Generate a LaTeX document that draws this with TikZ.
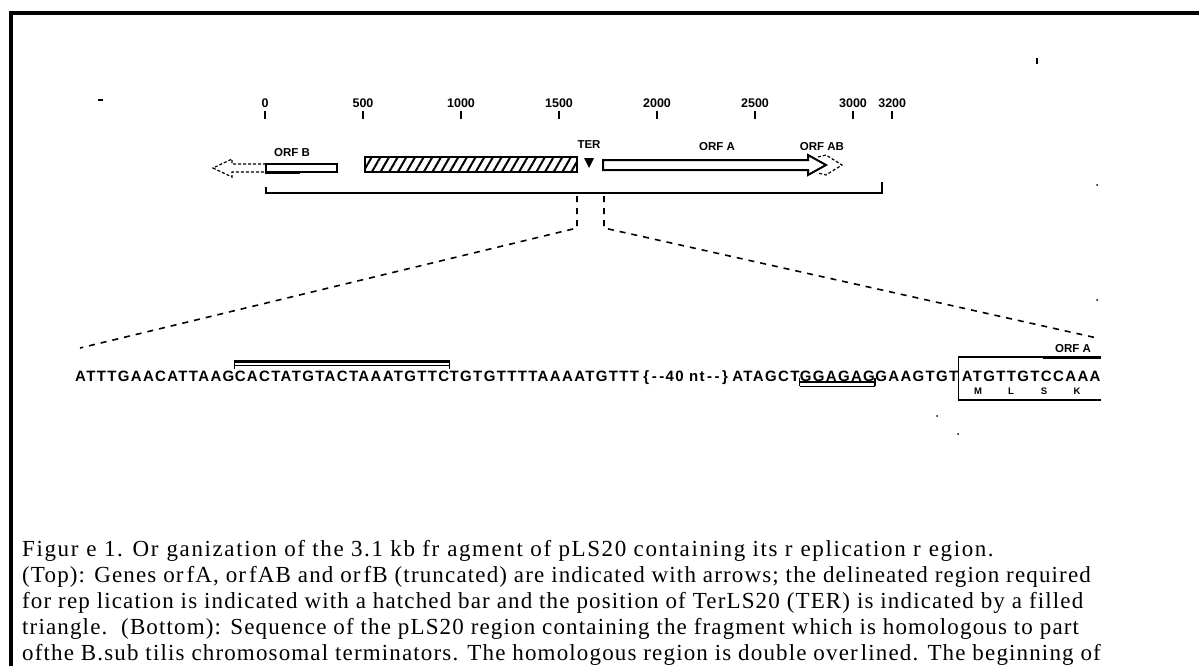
\documentclass[tikz,border=0pt]{standalone}
\usepackage{fontspec}
\setmainfont{Liberation Serif}
\setsansfont{Liberation Sans}
\usepackage{tikz}
\usetikzlibrary{positioning, calc, patterns.meta}
\newcommand{\seqfont}{\sffamily\bfseries\fontsize{15}{15}\selectfont\addfontfeature{LetterSpace=9}}
\newcommand{\rg}{\kern8pt}
\tikzset{
  frameline/.style={line width=4pt},
  ticklabel/.style={font=\sffamily\bfseries\fontsize{12.5}{12.5}\selectfont, inner sep=0pt},
  tickmark/.style={line width=1.8pt},
  orflabel/.style={font=\sffamily\bfseries\fontsize{11.5}{11.5}\selectfont, inner sep=0pt},
  geneline/.style={line width=1.2pt},
  thickgene/.style={line width=2pt},
  dashgene/.style={line width=1.2pt, dash pattern=on 3pt off 2pt},
  hatchbar/.style={draw, line width=1.8pt, inner sep=0pt, minimum width=212pt,
                   minimum height=15pt,
                   pattern={Lines[angle=60, distance=7.5pt, line width=2pt]}},
  bracketline/.style={line width=2.5pt},
  zoomline/.style={line width=1.6pt, dash pattern=on 6pt off 6pt},
  seqtext/.style={font=\seqfont, inner sep=0pt, anchor=base west},
  aatext/.style={font=\sffamily\bfseries\fontsize{9.5}{9.5}\selectfont, inner sep=0pt},
  markline/.style={line width=1.5pt},
  captionline/.style={font=\fontsize{23}{26}\selectfont\addfontfeature{LetterSpace=5},
                      inner sep=0pt, anchor=base west}
}

\begin{document}
\begin{tikzpicture}[x=1pt, y=-1pt, node distance=0pt]
  \useasboundingbox (0,0) rectangle (1199,666);

  % page frame
  \draw[frameline] (9,13) -- (1199,13);
  \draw[frameline] (11,11) -- (11,666);

  % scale in bp
  \foreach \pos in {0,500,1000,1500,2000,2500,3000,3200} {
    \node[ticklabel] (t\pos) at ({265+0.196*\pos},103) {\pos};
    \draw[tickmark] ({265+0.196*\pos},111) -- ({265+0.196*\pos},119);
  }

  % orfB (truncated)
  \draw[dashgene] (266,164) -- (232,164) -- (232,159) -- (213,168)
                  -- (232,177) -- (232,172) -- (266,172);
  \draw[geneline] (266,164) rectangle (337,172);
  \draw[thickgene] (266,163) -- (266,173) -- (300,173);
  \node[orflabel] (orfb) at (292,153) {ORF B};

  % region required for replication
  \node[hatchbar] (rep) at (471,164.5) {};

  % TER
  \node[orflabel] (terlab) at (589,145) {TER};
  \coordinate (ter) at (589,158);
  \fill (ter) -- ++(-5,0) -- ++(5,10) -- ++(5,-10) -- cycle;

  % orfA and orfAB
  \draw[thickgene] (603,170) -- (603,160) -- (808,160) -- (808,155)
                   -- (826,165) -- (808,175) -- (808,170) -- cycle;
  \draw[dashgene] (818,157) -- (826,155) -- (842,165) -- (826,175) -- (818,173);
  \node[orflabel] (orfa) at (717,147) {ORF A};
  \node[orflabel] (orfab) at (822,147) {ORF AB};

  % fragment
  \draw[bracketline] (266,187) -- (266,193) -- (882,193) -- (882,182);

  % sequence
  \node[seqtext] (s1) at (75,381) {ATTTGAACATTAAG};
  \node[seqtext, right=of s1.base east, anchor=base west] (s2) {CACTATGTACTAAATGTTC};
  \node[seqtext, right=of s2.base east, anchor=base west] (s3) {TGTGTTTTAAAATGTTT};
  \node[seqtext, right=4pt of s3.base east, anchor=base west] (gap) {\{\,-\,-40 nt\,-\,-\,\}};
  \node[seqtext, right=4pt of gap.base east, anchor=base west] (s4) {ATAGCT};
  \node[seqtext, right=of s4.base east, anchor=base west] (sd) {GGAGAG};
  \node[seqtext, right=of sd.base east, anchor=base west] (s5) {GAAGTGT};
  \node[seqtext, right=3pt of s5.base east, anchor=base west] (start) {ATGTTGTCCAAA};

  % zoom from TER region to sequence
  \coordinate (terA) at (577,196);
  \coordinate (terB) at (604,196);
  \coordinate (kinkA) at (577,228);
  \coordinate (kinkB) at (604,228);
  \coordinate (seqL) at (80,348);
  \coordinate (seqR) at (1097,338);
  \draw[zoomline] (terA) -- (kinkA) -- (seqL);
  \draw[zoomline] (terB) -- (kinkB) -- (seqR);

  % homologous region, double overlined
  \draw[line width=3pt] (s2.west |- 0,361) -- (s2.east |- 0,361);
  \draw[line width=1pt] (s2.west |- 0,365.5) -- (s2.east |- 0,365.5);
  \draw[markline] (s2.west |- 0,360) -- (s2.west |- 0,369);
  \draw[markline] (s2.east |- 0,360) -- (s2.east |- 0,369);

  % RBS, double underlined
  \draw[line width=1.8pt] (sd.west |- 0,382) -- (sd.east |- 0,382);
  \draw[line width=0.9pt] (sd.west |- 0,386) -- (sd.east |- 0,386);
  \draw[markline] (sd.west |- 0,378) -- (sd.west |- 0,386);
  \draw[markline] (sd.east |- 0,378) -- (sd.east |- 0,386);

  % start of orfA
  \coordinate (boxNW) at ($(start.west |- 0,357) + (-3,0)$);
  \coordinate (boxSW) at ($(start.west |- 0,400) + (-3,0)$);
  \draw[markline] (1101,357) -- (boxNW) -- (boxSW) -- (1101,400);
  \draw[line width=3pt] (1043,357) -- (1101,357);
  \node[orflabel] (orfaseq) at (1073,349) {ORF A};
  \foreach \aa [count=\i] in {M,L,S,K}
    \node[aatext] (aa\aa) at ($(start.west |- 0,391) + ({16.5+33*(\i-1)},0)$) {\aa};

  % specks
  \fill (1036,58) rectangle (1038,64);
  \fill (98,99) rectangle (103,101);
  \fill (1097,185) circle (1);
  \fill (1097,300) circle (1);
  \fill (938,378) circle (1);
  \fill (937,416) circle (1);
  \fill (958,434) circle (1);

  % caption
  \node[captionline, font={\fontsize{23}{26}\selectfont\addfontfeature{LetterSpace=7}}] (cap1) at (22,556) {Figur\rg e 1. Or\rg ganization of the 3.1 kb fr\rg agment of pLS20 containing its r\rg eplication r\rg egion.};
  \node[captionline] (cap2) at (22,582) {(Top): Genes or\kern3pt fA, or\kern3pt fAB and or\kern3pt fB (truncated) are indicated with arrows; the delineated region required};
  \node[captionline] (cap3) at (22,608) {for rep lication is indicated with a hatched bar and the position of TerLS20 (TER) is indicated by a filled};
  \node[captionline] (cap4) at (22,634) {triangle.\ \ (Bottom): Sequence of the pLS20 region containing the fragment which is homologous to part};
  \node[captionline] (cap5) at (22,660) {ofthe B.sub tilis chromosomal terminators. The homologous region is double over\kern3pt lined. The beginning of};

\end{tikzpicture}
\end{document}
